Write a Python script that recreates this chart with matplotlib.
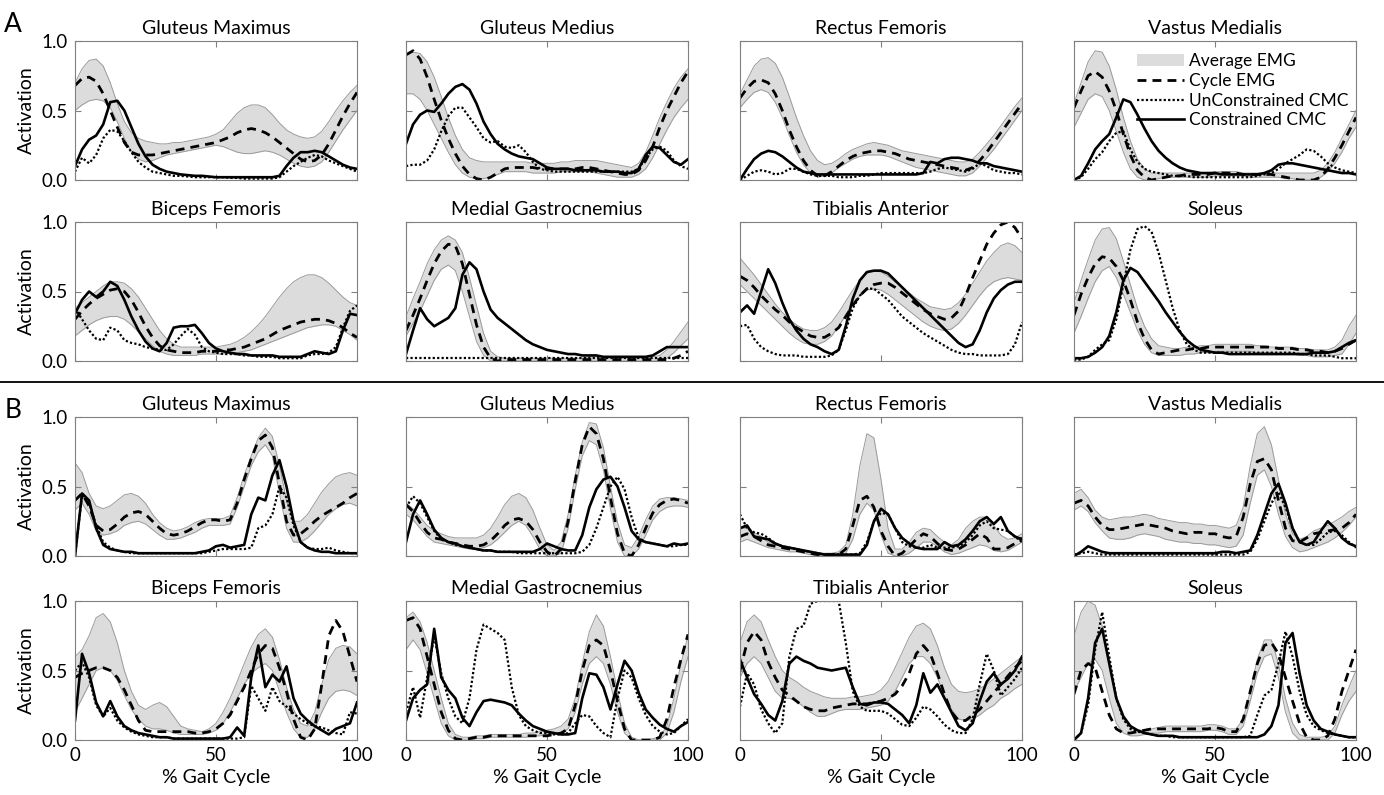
import numpy as np
import matplotlib
matplotlib.use("Agg")
import matplotlib.pyplot as plt
from matplotlib.patches import Patch
from matplotlib.lines import Line2D

plt.rcParams['font.family'] = ['Lato', 'DejaVu Sans']

# % gait cycle grid (every 2.5 %)
pct = np.arange(0, 100.1, 2.5)

# ---------------- A : Gluteus Maximus ----------------
a_gmax_hi = [0.70,0.80,0.86,0.87,0.82,0.70,0.55,0.42,0.34,0.30, 0.28,0.27,0.26,0.26,0.27,0.27,0.28,0.29,0.30,0.31,
             0.33,0.36,0.42,0.48,0.52,0.54,0.54,0.52,0.47,0.41, 0.36,0.33,0.31,0.30,0.31,0.35,0.42,0.50,0.57,0.63, 0.68]
a_gmax_lo = [0.50,0.54,0.57,0.58,0.57,0.52,0.42,0.30,0.20,0.15, 0.13,0.14,0.16,0.18,0.19,0.20,0.21,0.22,0.23,0.24,
             0.25,0.24,0.22,0.20,0.19,0.19,0.20,0.21,0.20,0.18, 0.15,0.12,0.10,0.09,0.10,0.13,0.20,0.28,0.36,0.43, 0.50]
a_gmax_cyc = [0.68,0.73,0.74,0.71,0.62,0.50,0.38,0.27,0.20,0.18, 0.18,0.18,0.19,0.20,0.21,0.22,0.23,0.24,0.25,0.26,
              0.27,0.29,0.31,0.34,0.36,0.37,0.36,0.34,0.31,0.27, 0.23,0.19,0.15,0.13,0.14,0.18,0.26,0.36,0.46,0.55, 0.63]
a_gmax_con = [0.10,0.22,0.29,0.32,0.40,0.56,0.57,0.50,0.38,0.26, 0.17,0.11,0.08,0.06,0.05,0.04,0.035,0.03,0.03,0.025,
              0.02,0.02,0.02,0.02,0.02,0.02,0.02,0.02,0.02,0.03, 0.10,0.16,0.20,0.20,0.21,0.20,0.17,0.14,0.11,0.09, 0.08]
a_gmax_unc = [0.06,0.16,0.12,0.18,0.30,0.36,0.35,0.28,0.20,0.13, 0.09,0.06,0.05,0.04,0.03,0.03,0.025,0.02,0.02,0.02,
              0.02,0.02,0.015,0.015,0.01,0.01,0.01,0.01,0.01,0.02, 0.06,0.10,0.13,0.16,0.18,0.17,0.14,0.12,0.10,0.08, 0.06]

# ---------------- A : Gluteus Medius ----------------
a_gmed_hi = [0.90,0.92,0.91,0.85,0.74,0.60,0.45,0.32,0.22,0.16, 0.14,0.13,0.13,0.13,0.13,0.13,0.13,0.13,0.12,0.12,
             0.12,0.12,0.13,0.13,0.14,0.14,0.14,0.14,0.13,0.12, 0.11,0.10,0.09,0.12,0.20,0.32,0.45,0.56,0.66,0.74, 0.80]
a_gmed_lo = [0.62,0.62,0.58,0.50,0.40,0.30,0.20,0.11,0.05,0.02, 0.01,0.01,0.02,0.04,0.06,0.06,0.06,0.06,0.05,0.05,
             0.05,0.05,0.06,0.06,0.06,0.06,0.06,0.05,0.04,0.03, 0.02,0.02,0.02,0.04,0.08,0.16,0.26,0.36,0.45,0.52, 0.58]
a_gmed_cyc = [0.90,0.93,0.87,0.74,0.58,0.43,0.30,0.19,0.10,0.04, 0.01,0.00,0.02,0.05,0.08,0.09,0.09,0.09,0.09,0.08,
              0.08,0.08,0.08,0.08,0.08,0.09,0.09,0.08,0.07,0.06, 0.05,0.04,0.04,0.07,0.14,0.24,0.38,0.50,0.60,0.70, 0.78]
a_gmed_con = [0.26,0.40,0.47,0.50,0.49,0.55,0.62,0.67,0.69,0.65, 0.55,0.42,0.33,0.26,0.22,0.19,0.17,0.16,0.15,0.12,
              0.09,0.08,0.08,0.08,0.07,0.07,0.07,0.07,0.06,0.06, 0.06,0.05,0.05,0.08,0.18,0.24,0.23,0.18,0.13,0.11, 0.15]
a_gmed_unc = [0.10,0.11,0.11,0.14,0.22,0.35,0.46,0.52,0.52,0.45, 0.38,0.30,0.27,0.28,0.24,0.23,0.25,0.20,0.13,0.08,
              0.07,0.06,0.06,0.06,0.06,0.06,0.06,0.06,0.06,0.06, 0.06,0.06,0.06,0.08,0.16,0.22,0.24,0.21,0.14,0.10, 0.08]

# ---------------- A : Rectus Femoris ----------------
a_rf_hi = [0.62,0.72,0.82,0.87,0.88,0.84,0.74,0.60,0.45,0.32, 0.21,0.14,0.11,0.12,0.15,0.19,0.22,0.24,0.26,0.27,
           0.26,0.25,0.23,0.21,0.20,0.19,0.18,0.17,0.16,0.15, 0.14,0.13,0.13,0.15,0.20,0.26,0.32,0.39,0.46,0.53, 0.59]
a_rf_lo = [0.52,0.58,0.63,0.65,0.63,0.56,0.45,0.32,0.20,0.11, 0.05,0.02,0.03,0.05,0.09,0.12,0.15,0.17,0.18,0.18,
           0.18,0.17,0.15,0.13,0.11,0.09,0.08,0.07,0.06,0.05, 0.04,0.03,0.03,0.05,0.10,0.16,0.22,0.29,0.36,0.43, 0.50]
a_rf_cyc = [0.59,0.66,0.71,0.72,0.70,0.62,0.50,0.36,0.24,0.14, 0.07,0.03,0.03,0.06,0.10,0.14,0.17,0.19,0.20,0.21,
            0.21,0.20,0.19,0.17,0.15,0.14,0.13,0.12,0.11,0.10, 0.09,0.08,0.07,0.09,0.14,0.20,0.27,0.34,0.41,0.48, 0.55]
a_rf_con = [0.00,0.08,0.15,0.19,0.21,0.20,0.17,0.13,0.09,0.06, 0.05,0.04,0.04,0.04,0.04,0.04,0.04,0.04,0.04,0.04,
            0.04,0.04,0.04,0.04,0.04,0.04,0.05,0.13,0.12,0.15, 0.16,0.16,0.15,0.14,0.12,0.12,0.10,0.09,0.08,0.07, 0.06]
a_rf_unc = [0.00,0.03,0.06,0.07,0.06,0.04,0.05,0.08,0.08,0.06, 0.04,0.03,0.03,0.03,0.02,0.02,0.02,0.03,0.03,0.04,
            0.05,0.05,0.05,0.05,0.05,0.05,0.05,0.06,0.08,0.09, 0.08,0.07,0.06,0.08,0.12,0.10,0.07,0.06,0.05,0.05, 0.04]

# ---------------- A : Vastus Medialis ----------------
a_vm_hi = [0.55,0.70,0.85,0.93,0.92,0.82,0.65,0.45,0.28,0.15, 0.08,0.05,0.05,0.05,0.05,0.05,0.05,0.05,0.05,0.05,
           0.06,0.06,0.06,0.06,0.05,0.05,0.05,0.05,0.05,0.05, 0.05,0.05,0.05,0.05,0.05,0.07,0.12,0.20,0.30,0.40, 0.50]
a_vm_lo = [0.38,0.48,0.58,0.62,0.60,0.50,0.35,0.20,0.08,0.02, 0.00,0.00,0.01,0.02,0.02,0.02,0.02,0.02,0.02,0.02,
           0.03,0.03,0.03,0.03,0.03,0.02,0.02,0.02,0.02,0.02, 0.01,0.01,0.00,0.00,0.00,0.02,0.06,0.12,0.20,0.30, 0.38]
a_vm_cyc = [0.52,0.64,0.75,0.78,0.74,0.64,0.50,0.33,0.18,0.07, 0.02,0.00,0.01,0.02,0.03,0.03,0.04,0.04,0.04,0.04,
            0.05,0.05,0.05,0.05,0.04,0.04,0.04,0.04,0.04,0.03, 0.02,0.01,0.00,0.00,0.00,0.02,0.08,0.16,0.25,0.35, 0.45]
a_vm_con = [0.00,0.03,0.12,0.22,0.28,0.33,0.45,0.58,0.56,0.47, 0.37,0.28,0.21,0.16,0.12,0.09,0.07,0.06,0.05,0.05,
            0.05,0.04,0.04,0.04,0.04,0.04,0.04,0.05,0.07,0.11, 0.12,0.12,0.11,0.10,0.09,0.08,0.07,0.06,0.05,0.05, 0.04]
a_vm_unc = [0.00,0.02,0.08,0.15,0.20,0.28,0.34,0.35,0.22,0.13, 0.08,0.06,0.05,0.04,0.03,0.03,0.03,0.02,0.02,0.02,
            0.02,0.02,0.02,0.02,0.02,0.02,0.03,0.04,0.05,0.08, 0.12,0.15,0.18,0.22,0.21,0.17,0.12,0.09,0.07,0.06, 0.05]

# ---------------- A : Biceps Femoris ----------------
a_bf_hi = [0.38,0.42,0.46,0.50,0.54,0.57,0.57,0.56,0.52,0.46, 0.38,0.30,0.22,0.16,0.12,0.10,0.10,0.10,0.10,0.10,
           0.10,0.11,0.12,0.14,0.17,0.21,0.26,0.32,0.39,0.46, 0.52,0.57,0.60,0.62,0.62,0.60,0.56,0.51,0.46,0.42, 0.40]
a_bf_lo = [0.18,0.22,0.26,0.29,0.31,0.32,0.32,0.30,0.26,0.21, 0.16,0.11,0.07,0.05,0.04,0.04,0.04,0.04,0.05,0.05,
           0.05,0.05,0.06,0.06,0.07,0.08,0.10,0.12,0.14,0.16, 0.18,0.20,0.22,0.24,0.25,0.26,0.26,0.25,0.22,0.19, 0.15]
a_bf_cyc = [0.30,0.36,0.41,0.45,0.48,0.51,0.52,0.50,0.44,0.35, 0.25,0.17,0.11,0.08,0.07,0.06,0.06,0.06,0.07,0.07,
            0.07,0.08,0.08,0.09,0.10,0.12,0.14,0.16,0.19,0.22, 0.24,0.26,0.28,0.29,0.30,0.30,0.29,0.27,0.24,0.20, 0.17]
a_bf_con = [0.34,0.44,0.50,0.46,0.50,0.57,0.54,0.44,0.32,0.22, 0.14,0.09,0.07,0.13,0.24,0.25,0.25,0.26,0.20,0.13,
            0.09,0.07,0.06,0.05,0.05,0.04,0.04,0.04,0.04,0.03, 0.03,0.03,0.03,0.05,0.07,0.06,0.05,0.07,0.22,0.34, 0.33]
a_bf_unc = [0.38,0.30,0.22,0.16,0.15,0.24,0.22,0.15,0.13,0.12, 0.10,0.09,0.08,0.08,0.12,0.18,0.23,0.19,0.10,0.07,
            0.06,0.05,0.05,0.05,0.04,0.04,0.03,0.03,0.03,0.02, 0.02,0.02,0.02,0.04,0.05,0.05,0.06,0.10,0.24,0.36, 0.40]

# ---------------- A : Medial Gastrocnemius ----------------
a_mg_hi = [0.32,0.45,0.57,0.70,0.80,0.87,0.90,0.87,0.78,0.60, 0.40,0.20,0.07,0.03,0.02,0.02,0.02,0.02,0.02,0.02,
           0.02,0.02,0.02,0.02,0.02,0.02,0.03,0.03,0.03,0.03, 0.03,0.03,0.03,0.03,0.03,0.03,0.04,0.08,0.14,0.21, 0.28]
a_mg_lo = [0.18,0.27,0.36,0.47,0.58,0.66,0.69,0.65,0.50,0.32, 0.14,0.04,0.00,0.00,0.00,0.00,0.00,0.00,0.00,0.00,
           0.00,0.00,0.00,0.00,0.00,0.00,0.00,0.00,0.00,0.00, 0.00,0.00,0.00,0.00,0.00,0.00,0.00,0.02,0.06,0.11, 0.16]
a_mg_cyc = [0.22,0.33,0.45,0.58,0.70,0.79,0.84,0.83,0.70,0.48, 0.26,0.10,0.02,0.00,0.01,0.01,0.01,0.01,0.01,0.01,
            0.01,0.01,0.01,0.01,0.01,0.01,0.01,0.01,0.01,0.01, 0.01,0.01,0.01,0.01,0.01,0.01,0.01,0.01,0.02,0.04, 0.07]
a_mg_con = [0.05,0.22,0.38,0.30,0.25,0.28,0.31,0.38,0.62,0.71, 0.66,0.50,0.37,0.31,0.27,0.23,0.19,0.15,0.12,0.10,
            0.08,0.07,0.06,0.05,0.05,0.04,0.04,0.04,0.03,0.03, 0.03,0.03,0.03,0.03,0.03,0.04,0.07,0.10,0.10,0.10, 0.10]
a_mg_unc = [0.02,0.02,0.02,0.02,0.02,0.02,0.02,0.02,0.02,0.02, 0.02,0.02,0.02,0.02,0.02,0.02,0.02,0.02,0.02,0.02,
            0.02,0.02,0.02,0.02,0.02,0.02,0.02,0.02,0.02,0.02, 0.02,0.02,0.02,0.02,0.02,0.02,0.02,0.02,0.02,0.02, 0.02]

# ---------------- A : Tibialis Anterior ----------------
a_ta_hi = [0.74,0.68,0.62,0.55,0.48,0.41,0.35,0.30,0.26,0.23, 0.22,0.22,0.24,0.28,0.35,0.43,0.51,0.58,0.63,0.65,
           0.64,0.61,0.57,0.53,0.49,0.45,0.42,0.39,0.38,0.37, 0.38,0.42,0.48,0.56,0.64,0.72,0.78,0.83,0.85,0.83, 0.78]
a_ta_lo = [0.55,0.50,0.45,0.40,0.35,0.30,0.25,0.20,0.16,0.13, 0.12,0.12,0.14,0.18,0.25,0.33,0.41,0.47,0.51,0.52,
           0.51,0.48,0.44,0.40,0.36,0.32,0.28,0.25,0.23,0.22, 0.23,0.27,0.33,0.40,0.47,0.53,0.57,0.59,0.60,0.59, 0.58]
a_ta_cyc = [0.61,0.58,0.53,0.47,0.42,0.37,0.33,0.28,0.24,0.21, 0.18,0.17,0.17,0.20,0.24,0.32,0.40,0.47,0.52,0.55,
            0.56,0.56,0.53,0.49,0.45,0.41,0.37,0.34,0.32,0.30, 0.31,0.36,0.47,0.60,0.72,0.84,0.92,0.98,1.00,0.96, 0.88]
a_ta_con = [0.35,0.40,0.34,0.50,0.66,0.56,0.42,0.30,0.22,0.16, 0.12,0.10,0.07,0.05,0.08,0.25,0.45,0.58,0.64,0.65,
            0.65,0.63,0.58,0.53,0.48,0.43,0.38,0.33,0.28,0.23, 0.18,0.13,0.10,0.12,0.22,0.35,0.45,0.51,0.55,0.57, 0.57]
a_ta_unc = [0.25,0.26,0.16,0.10,0.07,0.05,0.04,0.04,0.04,0.03, 0.03,0.03,0.03,0.04,0.08,0.22,0.38,0.47,0.52,0.52,
            0.48,0.44,0.38,0.32,0.28,0.24,0.20,0.17,0.14,0.11, 0.08,0.06,0.05,0.05,0.04,0.04,0.04,0.04,0.05,0.12, 0.28]

# ---------------- A : Soleus ----------------
a_sol_hi = [0.42,0.58,0.73,0.87,0.95,0.96,0.88,0.72,0.55,0.38, 0.25,0.16,0.11,0.10,0.09,0.09,0.10,0.10,0.11,0.11,
            0.12,0.12,0.12,0.12,0.12,0.12,0.11,0.11,0.10,0.10, 0.10,0.10,0.09,0.09,0.08,0.08,0.08,0.10,0.15,0.25, 0.33]
a_sol_lo = [0.20,0.32,0.45,0.57,0.65,0.68,0.60,0.48,0.35,0.22, 0.12,0.06,0.04,0.04,0.04,0.04,0.05,0.05,0.06,0.06,
            0.07,0.07,0.07,0.07,0.07,0.07,0.06,0.06,0.06,0.05, 0.05,0.05,0.04,0.04,0.03,0.03,0.03,0.04,0.05,0.12, 0.20]
a_sol_cyc = [0.33,0.48,0.60,0.70,0.75,0.74,0.68,0.58,0.44,0.28, 0.16,0.08,0.05,0.06,0.07,0.08,0.08,0.09,0.09,0.10,
             0.10,0.10,0.10,0.10,0.10,0.10,0.10,0.10,0.10,0.09, 0.09,0.09,0.08,0.08,0.07,0.07,0.06,0.07,0.09,0.12, 0.15]
a_sol_con = [0.02,0.02,0.03,0.06,0.10,0.18,0.35,0.58,0.67,0.64, 0.57,0.50,0.43,0.35,0.28,0.21,0.15,0.11,0.08,0.07,
             0.06,0.06,0.05,0.05,0.05,0.05,0.05,0.05,0.05,0.05, 0.05,0.05,0.05,0.05,0.06,0.06,0.06,0.07,0.10,0.13, 0.15]
a_sol_unc = [0.01,0.01,0.03,0.08,0.12,0.15,0.30,0.55,0.80,0.95, 0.97,0.93,0.78,0.58,0.38,0.22,0.12,0.08,0.06,0.06,
             0.06,0.06,0.06,0.06,0.06,0.06,0.06,0.06,0.06,0.06, 0.06,0.06,0.05,0.05,0.04,0.04,0.04,0.03,0.02,0.02, 0.02]

# ---------------- B : Gluteus Maximus ----------------
b_gmax_hi = [0.67,0.60,0.45,0.36,0.34,0.36,0.40,0.44,0.45,0.43, 0.38,0.30,0.24,0.20,0.18,0.19,0.21,0.24,0.26,0.27,
             0.27,0.27,0.29,0.42,0.58,0.72,0.85,0.92,0.86,0.65, 0.40,0.25,0.25,0.30,0.38,0.46,0.52,0.57,0.59,0.60, 0.58]
b_gmax_lo = [0.33,0.38,0.30,0.18,0.15,0.16,0.18,0.22,0.24,0.25, 0.23,0.19,0.15,0.12,0.12,0.13,0.15,0.17,0.20,0.22,
             0.22,0.22,0.23,0.35,0.50,0.65,0.75,0.80,0.72,0.45, 0.20,0.10,0.10,0.13,0.18,0.24,0.30,0.34,0.37,0.38, 0.36]
b_gmax_cyc = [0.40,0.45,0.36,0.22,0.18,0.19,0.23,0.28,0.31,0.32, 0.30,0.25,0.20,0.16,0.15,0.16,0.18,0.21,0.24,0.26,
              0.26,0.25,0.26,0.38,0.55,0.70,0.83,0.87,0.78,0.52, 0.25,0.15,0.16,0.20,0.25,0.29,0.32,0.35,0.38,0.42, 0.45]
b_gmax_con = [0.00,0.45,0.40,0.20,0.08,0.05,0.04,0.03,0.03,0.02, 0.02,0.02,0.02,0.02,0.02,0.02,0.02,0.02,0.03,0.04,
              0.07,0.08,0.06,0.07,0.08,0.30,0.42,0.40,0.58,0.69, 0.50,0.25,0.10,0.06,0.04,0.03,0.03,0.02,0.02,0.02, 0.02]
b_gmax_unc = [0.00,0.44,0.38,0.22,0.10,0.06,0.04,0.03,0.02,0.02, 0.02,0.02,0.02,0.02,0.02,0.02,0.02,0.02,0.02,0.03,
              0.04,0.05,0.05,0.05,0.05,0.06,0.20,0.22,0.30,0.50, 0.42,0.22,0.10,0.06,0.05,0.05,0.06,0.04,0.03,0.02, 0.02]

# ---------------- B : Gluteus Medius ----------------
b_gmed_hi = [0.38,0.34,0.28,0.22,0.18,0.16,0.14,0.13,0.13,0.13, 0.13,0.15,0.20,0.28,0.37,0.43,0.45,0.42,0.33,0.20,
             0.08,0.04,0.10,0.30,0.58,0.82,0.96,0.95,0.78,0.50, 0.24,0.08,0.06,0.14,0.26,0.36,0.41,0.42,0.42,0.41, 0.40]
b_gmed_lo = [0.30,0.26,0.20,0.14,0.10,0.09,0.08,0.07,0.06,0.05, 0.05,0.06,0.08,0.12,0.17,0.22,0.25,0.22,0.14,0.05,
             0.00,0.00,0.02,0.20,0.48,0.72,0.83,0.80,0.62,0.34, 0.10,0.00,0.00,0.05,0.15,0.26,0.32,0.35,0.36,0.36, 0.35]
b_gmed_cyc = [0.37,0.32,0.24,0.17,0.13,0.12,0.10,0.09,0.08,0.07, 0.07,0.08,0.11,0.16,0.22,0.26,0.27,0.25,0.19,0.10,
              0.03,0.00,0.05,0.25,0.54,0.80,0.93,0.88,0.70,0.42, 0.16,0.02,0.00,0.08,0.20,0.31,0.37,0.40,0.41,0.40, 0.38]
b_gmed_con = [0.10,0.30,0.40,0.30,0.19,0.13,0.10,0.09,0.07,0.06, 0.05,0.04,0.04,0.03,0.03,0.03,0.03,0.03,0.03,0.05,
              0.09,0.07,0.05,0.04,0.04,0.15,0.35,0.48,0.55,0.57, 0.50,0.35,0.18,0.12,0.10,0.09,0.08,0.07,0.09,0.08, 0.09]
b_gmed_unc = [0.35,0.43,0.38,0.28,0.18,0.12,0.10,0.08,0.07,0.06, 0.05,0.04,0.04,0.03,0.03,0.03,0.02,0.02,0.02,0.02,
              0.02,0.02,0.02,0.02,0.02,0.03,0.08,0.20,0.35,0.50, 0.57,0.48,0.28,0.13,0.10,0.09,0.08,0.07,0.07,0.08, 0.08]

# ---------------- B : Rectus Femoris ----------------
b_rf_hi = [0.20,0.20,0.17,0.14,0.10,0.08,0.07,0.06,0.05,0.04, 0.03,0.02,0.02,0.02,0.03,0.08,0.30,0.65,0.88,0.85,
           0.55,0.20,0.05,0.05,0.10,0.17,0.20,0.19,0.14,0.10, 0.08,0.12,0.20,0.25,0.28,0.28,0.22,0.15,0.12,0.13, 0.16]
b_rf_lo = [0.10,0.12,0.10,0.08,0.06,0.05,0.04,0.03,0.03,0.02, 0.01,0.00,0.00,0.00,0.00,0.02,0.12,0.30,0.38,0.33,
           0.15,0.02,0.00,0.00,0.02,0.06,0.10,0.10,0.07,0.03, 0.01,0.02,0.04,0.06,0.08,0.07,0.04,0.03,0.04,0.07, 0.10]
b_rf_cyc = [0.14,0.16,0.14,0.11,0.08,0.07,0.06,0.05,0.04,0.03, 0.02,0.01,0.01,0.01,0.01,0.05,0.22,0.40,0.43,0.35,
            0.18,0.07,0.00,0.02,0.07,0.12,0.16,0.14,0.09,0.05, 0.04,0.05,0.08,0.12,0.16,0.13,0.05,0.05,0.06,0.09, 0.13]
b_rf_con = [0.20,0.22,0.14,0.13,0.12,0.09,0.07,0.06,0.05,0.04, 0.03,0.02,0.01,0.01,0.01,0.01,0.01,0.01,0.08,0.25,
            0.34,0.30,0.20,0.13,0.09,0.06,0.05,0.05,0.05,0.10, 0.07,0.08,0.12,0.18,0.25,0.28,0.23,0.28,0.18,0.14, 0.12]
b_rf_unc = [0.30,0.20,0.17,0.16,0.13,0.09,0.07,0.06,0.05,0.04, 0.03,0.02,0.01,0.01,0.01,0.01,0.01,0.02,0.10,0.25,
            0.31,0.30,0.20,0.10,0.07,0.06,0.06,0.08,0.06,0.06, 0.06,0.07,0.10,0.15,0.22,0.25,0.20,0.19,0.18,0.14, 0.10]

# ---------------- B : Vastus Medialis ----------------
b_vm_hi = [0.45,0.48,0.42,0.33,0.28,0.26,0.27,0.28,0.28,0.29, 0.30,0.29,0.27,0.26,0.25,0.24,0.24,0.23,0.23,0.22,
           0.22,0.21,0.20,0.22,0.35,0.65,0.88,0.93,0.80,0.55, 0.30,0.16,0.12,0.14,0.18,0.20,0.22,0.25,0.28,0.32, 0.35]
b_vm_lo = [0.33,0.36,0.32,0.24,0.18,0.13,0.12,0.12,0.13,0.15, 0.16,0.15,0.14,0.12,0.11,0.10,0.10,0.09,0.09,0.08,
           0.08,0.07,0.06,0.07,0.15,0.38,0.58,0.62,0.50,0.30, 0.14,0.06,0.03,0.04,0.06,0.08,0.10,0.13,0.17,0.22, 0.28]
b_vm_cyc = [0.38,0.40,0.36,0.28,0.22,0.19,0.19,0.20,0.21,0.22, 0.23,0.22,0.21,0.20,0.18,0.17,0.16,0.17,0.17,0.16,
            0.16,0.14,0.13,0.14,0.28,0.52,0.68,0.70,0.62,0.40, 0.20,0.11,0.10,0.13,0.16,0.17,0.18,0.19,0.20,0.24, 0.30]
b_vm_con = [0.00,0.03,0.07,0.05,0.03,0.02,0.02,0.02,0.02,0.02, 0.02,0.02,0.02,0.02,0.02,0.02,0.02,0.02,0.02,0.02,
            0.02,0.03,0.03,0.02,0.03,0.04,0.15,0.30,0.45,0.52, 0.38,0.20,0.10,0.08,0.10,0.18,0.25,0.20,0.13,0.09, 0.07]
b_vm_unc = [0.01,0.02,0.03,0.02,0.01,0.01,0.01,0.01,0.01,0.01, 0.01,0.01,0.01,0.01,0.01,0.01,0.01,0.01,0.01,0.01,
            0.01,0.01,0.01,0.01,0.01,0.03,0.12,0.25,0.38,0.46, 0.35,0.20,0.10,0.08,0.08,0.12,0.17,0.18,0.15,0.10, 0.06]

# ---------------- B : Biceps Femoris ----------------
b_bf_hi = [0.60,0.65,0.75,0.88,0.91,0.85,0.70,0.50,0.35,0.25, 0.22,0.25,0.27,0.24,0.17,0.10,0.08,0.07,0.06,0.08,
           0.12,0.20,0.30,0.42,0.55,0.67,0.76,0.80,0.74,0.58, 0.38,0.22,0.12,0.10,0.20,0.40,0.58,0.66,0.68,0.67, 0.62]
b_bf_lo = [0.20,0.30,0.40,0.50,0.52,0.50,0.43,0.32,0.22,0.15, 0.10,0.08,0.08,0.07,0.05,0.04,0.04,0.04,0.04,0.05,
           0.07,0.12,0.20,0.30,0.40,0.48,0.52,0.55,0.50,0.35, 0.20,0.08,0.02,0.02,0.08,0.20,0.30,0.35,0.36,0.35, 0.32]
b_bf_cyc = [0.45,0.48,0.50,0.52,0.52,0.50,0.45,0.36,0.25,0.14, 0.07,0.06,0.06,0.06,0.06,0.06,0.06,0.05,0.05,0.06,
            0.08,0.12,0.18,0.28,0.38,0.50,0.62,0.68,0.66,0.52, 0.35,0.15,0.02,0.00,0.08,0.40,0.75,0.86,0.78,0.60, 0.42]
b_bf_con = [0.14,0.62,0.48,0.27,0.17,0.28,0.17,0.10,0.07,0.05, 0.04,0.03,0.02,0.02,0.01,0.01,0.01,0.01,0.01,0.01,
            0.01,0.01,0.02,0.09,0.03,0.45,0.68,0.38,0.47,0.42, 0.53,0.30,0.19,0.14,0.10,0.07,0.04,0.08,0.10,0.12, 0.27]
b_bf_unc = [0.50,0.56,0.45,0.25,0.17,0.23,0.14,0.09,0.06,0.04, 0.03,0.02,0.02,0.02,0.01,0.01,0.01,0.01,0.01,0.01,
            0.01,0.01,0.01,0.01,0.02,0.39,0.30,0.21,0.38,0.28, 0.24,0.19,0.15,0.12,0.10,0.09,0.07,0.05,0.04,0.20, 0.19]

# ---------------- B : Medial Gastrocnemius ----------------
b_mg_hi = [0.88,0.92,0.85,0.70,0.50,0.30,0.12,0.04,0.02,0.02, 0.03,0.03,0.04,0.04,0.04,0.04,0.04,0.05,0.05,0.06,
           0.07,0.08,0.10,0.15,0.30,0.55,0.78,0.90,0.82,0.60, 0.35,0.12,0.02,0.00,0.00,0.01,0.02,0.10,0.30,0.55, 0.75]
b_mg_lo = [0.65,0.72,0.65,0.48,0.30,0.12,0.03,0.00,0.00,0.00, 0.01,0.01,0.02,0.02,0.02,0.02,0.02,0.02,0.03,0.03,
           0.04,0.04,0.05,0.08,0.20,0.40,0.55,0.60,0.55,0.40, 0.20,0.05,0.00,0.00,0.00,0.00,0.00,0.05,0.20,0.42, 0.60]
b_mg_cyc = [0.86,0.88,0.80,0.60,0.40,0.20,0.07,0.01,0.00,0.01, 0.02,0.02,0.03,0.03,0.03,0.03,0.03,0.03,0.03,0.03,
            0.03,0.04,0.05,0.08,0.25,0.50,0.68,0.72,0.68,0.50, 0.28,0.08,0.00,0.00,0.00,0.00,0.02,0.15,0.38,0.58, 0.76]
b_mg_con = [0.14,0.30,0.36,0.40,0.80,0.45,0.36,0.30,0.16,0.10, 0.20,0.28,0.29,0.28,0.27,0.25,0.19,0.14,0.10,0.08,
            0.06,0.05,0.04,0.04,0.05,0.30,0.48,0.47,0.38,0.22, 0.40,0.57,0.50,0.34,0.22,0.16,0.11,0.08,0.06,0.10, 0.13]
b_mg_unc = [0.20,0.38,0.16,0.45,0.75,0.48,0.30,0.17,0.12,0.30, 0.65,0.83,0.80,0.77,0.72,0.38,0.18,0.10,0.07,0.05,
            0.05,0.04,0.04,0.05,0.12,0.18,0.17,0.10,0.05,0.02, 0.30,0.50,0.45,0.30,0.18,0.10,0.06,0.04,0.05,0.10, 0.15]

# ---------------- B : Tibialis Anterior ----------------
b_ta_hi = [0.70,0.85,0.90,0.85,0.72,0.60,0.50,0.45,0.42,0.38, 0.35,0.33,0.31,0.30,0.30,0.30,0.31,0.31,0.32,0.33,
           0.36,0.42,0.52,0.63,0.74,0.82,0.84,0.80,0.68,0.52, 0.40,0.35,0.34,0.35,0.37,0.40,0.44,0.48,0.52,0.56, 0.60]
b_ta_lo = [0.45,0.55,0.60,0.55,0.45,0.35,0.30,0.30,0.28,0.24, 0.20,0.17,0.17,0.19,0.21,0.22,0.22,0.22,0.23,0.24,
           0.25,0.28,0.35,0.45,0.55,0.60,0.60,0.55,0.45,0.32, 0.22,0.15,0.14,0.15,0.18,0.22,0.25,0.30,0.33,0.37, 0.40]
b_ta_cyc = [0.50,0.70,0.78,0.72,0.56,0.45,0.36,0.32,0.28,0.24, 0.22,0.21,0.21,0.23,0.24,0.25,0.26,0.26,0.26,0.27,
            0.28,0.30,0.33,0.39,0.48,0.62,0.68,0.62,0.48,0.33, 0.20,0.14,0.14,0.18,0.22,0.28,0.34,0.40,0.46,0.52, 0.57]
b_ta_con = [0.58,0.45,0.33,0.26,0.18,0.14,0.28,0.55,0.60,0.57, 0.55,0.52,0.51,0.50,0.51,0.52,0.38,0.26,0.25,0.27,
            0.27,0.26,0.22,0.18,0.12,0.25,0.48,0.34,0.40,0.30, 0.20,0.10,0.07,0.12,0.28,0.42,0.48,0.40,0.44,0.50, 0.60]
b_ta_unc = [0.24,0.48,0.40,0.22,0.12,0.05,0.12,0.60,0.80,0.82, 0.98,1.00,1.00,1.00,1.00,0.70,0.35,0.24,0.21,0.21,
            0.21,0.19,0.15,0.11,0.10,0.16,0.24,0.22,0.17,0.11, 0.07,0.05,0.05,0.15,0.40,0.62,0.50,0.32,0.38,0.44, 0.52]

# ---------------- B : Soleus ----------------
b_sol_hi = [0.75,0.92,1.00,0.97,0.82,0.55,0.30,0.15,0.09,0.07, 0.07,0.08,0.09,0.10,0.10,0.10,0.10,0.10,0.10,0.11,
            0.11,0.10,0.08,0.08,0.15,0.35,0.58,0.72,0.72,0.55, 0.30,0.12,0.04,0.02,0.02,0.02,0.03,0.10,0.25,0.38, 0.50]
b_sol_lo = [0.35,0.45,0.55,0.58,0.50,0.30,0.12,0.05,0.03,0.03, 0.04,0.05,0.05,0.06,0.06,0.06,0.06,0.06,0.06,0.07,
            0.07,0.06,0.04,0.04,0.10,0.28,0.48,0.60,0.62,0.45, 0.20,0.05,0.00,0.00,0.00,0.00,0.00,0.05,0.18,0.28, 0.35]
b_sol_cyc = [0.33,0.50,0.55,0.52,0.35,0.18,0.08,0.05,0.05,0.06, 0.07,0.08,0.08,0.08,0.08,0.08,0.08,0.08,0.08,0.08,
             0.09,0.08,0.06,0.06,0.15,0.35,0.55,0.68,0.70,0.62, 0.45,0.28,0.12,0.02,0.00,0.00,0.03,0.15,0.35,0.50, 0.65]
b_sol_con = [0.00,0.05,0.30,0.70,0.80,0.55,0.30,0.17,0.10,0.07, 0.05,0.04,0.03,0.03,0.03,0.02,0.02,0.02,0.02,0.02,
             0.02,0.02,0.02,0.02,0.02,0.02,0.02,0.04,0.10,0.25, 0.70,0.77,0.48,0.25,0.14,0.08,0.06,0.04,0.03,0.02, 0.02]
b_sol_unc = [0.00,0.05,0.25,0.65,0.92,0.60,0.30,0.15,0.08,0.06, 0.05,0.04,0.03,0.03,0.02,0.02,0.02,0.02,0.02,0.02,
             0.02,0.02,0.02,0.02,0.02,0.03,0.18,0.32,0.36,0.55, 0.78,0.60,0.35,0.18,0.10,0.07,0.05,0.04,0.03,0.02, 0.02]

muscles = ["Gluteus Maximus", "Gluteus Medius", "Rectus Femoris", "Vastus Medialis",
           "Biceps Femoris", "Medial Gastrocnemius", "Tibialis Anterior", "Soleus"]

panel_a = [
    (a_gmax_lo, a_gmax_hi, a_gmax_cyc, a_gmax_unc, a_gmax_con),
    (a_gmed_lo, a_gmed_hi, a_gmed_cyc, a_gmed_unc, a_gmed_con),
    (a_rf_lo, a_rf_hi, a_rf_cyc, a_rf_unc, a_rf_con),
    (a_vm_lo, a_vm_hi, a_vm_cyc, a_vm_unc, a_vm_con),
    (a_bf_lo, a_bf_hi, a_bf_cyc, a_bf_unc, a_bf_con),
    (a_mg_lo, a_mg_hi, a_mg_cyc, a_mg_unc, a_mg_con),
    (a_ta_lo, a_ta_hi, a_ta_cyc, a_ta_unc, a_ta_con),
    (a_sol_lo, a_sol_hi, a_sol_cyc, a_sol_unc, a_sol_con),
]
panel_b = [
    (b_gmax_lo, b_gmax_hi, b_gmax_cyc, b_gmax_unc, b_gmax_con),
    (b_gmed_lo, b_gmed_hi, b_gmed_cyc, b_gmed_unc, b_gmed_con),
    (b_rf_lo, b_rf_hi, b_rf_cyc, b_rf_unc, b_rf_con),
    (b_vm_lo, b_vm_hi, b_vm_cyc, b_vm_unc, b_vm_con),
    (b_bf_lo, b_bf_hi, b_bf_cyc, b_bf_unc, b_bf_con),
    (b_mg_lo, b_mg_hi, b_mg_cyc, b_mg_unc, b_mg_con),
    (b_ta_lo, b_ta_hi, b_ta_cyc, b_ta_unc, b_ta_con),
    (b_sol_lo, b_sol_hi, b_sol_cyc, b_sol_unc, b_sol_con),
]

W, H = 1384, 795
fig = plt.figure(figsize=(W / 100, H / 100), dpi=100)

# panel frames in pixels
col_left = [75, 406, 740, 1074]
ax_w = 282
ax_h = 139
row_top = [41, 222, 417, 601]

band_col = "#dcdcdc"
edge_col = "#9a9a9a"
dash = (0, (3.2, 2.2))
dots = (0, (1, 1))


def draw_panel(ax, lo, hi, cyc, unc, con):
    ax.fill_between(pct, lo, hi, color=band_col, lw=0)
    ax.plot(pct, lo, color=edge_col, lw=0.7)
    ax.plot(pct, hi, color=edge_col, lw=0.7)
    ax.plot(pct, unc, color="black", lw=1.6, linestyle=dots)
    ax.plot(pct, cyc, color="black", lw=2.0, linestyle=dash)
    ax.plot(pct, con, color="black", lw=1.9)


for block, data in enumerate([panel_a, panel_b]):
    for i, (lo, hi, cyc, unc, con) in enumerate(data):
        r = block * 2 + i // 4
        c = i % 4
        rect = [col_left[c] / W, 1 - (row_top[r] + ax_h) / H, ax_w / W, ax_h / H]
        ax = fig.add_axes(rect)
        draw_panel(ax, lo, hi, cyc, unc, con)
        ax.set_xlim(0, 100)
        ax.set_ylim(0, 1)
        ax.set_xticks([0, 50, 100])
        ax.set_yticks([0, 0.5, 1.0])
        ax.tick_params(direction="in", length=4, width=0.8, color="#808080",
                       top=True, right=True, labelsize=13.5, pad=5)
        for s in ax.spines.values():
            s.set_color("#808080")
            s.set_linewidth(0.8)
        ax.set_title(muscles[i], fontsize=14, pad=5)
        if c == 0:
            ax.set_yticklabels(["0.0", "0.5", "1.0"])
            ax.set_ylabel("Activation", fontsize=14, labelpad=5)
        else:
            ax.set_yticklabels([])
        if r == 3:
            ax.set_xticklabels(["0", "50", "100"])
            ax.set_xlabel("% Gait Cycle", fontsize=14, labelpad=4)
        else:
            ax.set_xticklabels([])
        if block == 0 and i == 3:
            handles = [Patch(facecolor=band_col, edgecolor="none"),
                       Line2D([], [], color="black", lw=2.0, linestyle=dash),
                       Line2D([], [], color="black", lw=1.6, linestyle=dots),
                       Line2D([], [], color="black", lw=1.9)]
            labels = ["Average EMG", "Cycle EMG", "UnConstrained CMC", "Constrained CMC"]
            ax.legend(handles, labels, loc="upper right", frameon=False, fontsize=12.5,
                      handlelength=2.7, handletextpad=0.25, labelspacing=0.22,
                      borderaxespad=0.05, bbox_to_anchor=(1.0, 0.97))

# separator between A and B
fig.add_artist(Line2D([0, 1], [1 - 382 / H, 1 - 382 / H], color="black", lw=1.3))
fig.text(13 / W, 1 - 25 / H, "A", fontsize=19, ha="center", va="center")
fig.text(13 / W, 1 - 410 / H, "B", fontsize=19, ha="center", va="center")

fig.savefig("out.png", dpi=100)
